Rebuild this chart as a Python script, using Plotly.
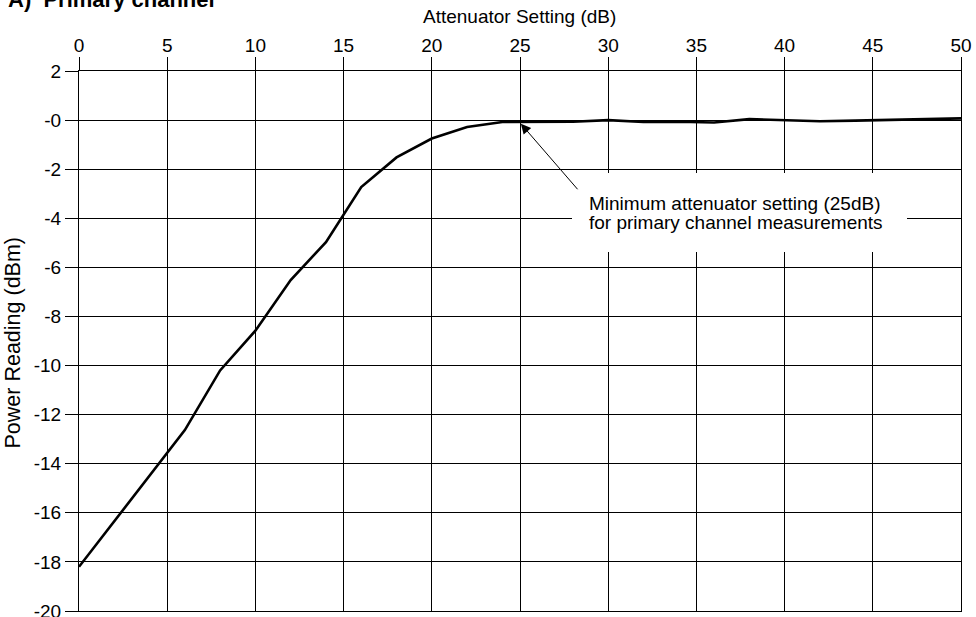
import plotly.graph_objects as go

# ---- data ----
attenuator_db = [0, 2, 4, 6, 8, 10, 12, 14, 16, 18, 20, 22, 24, 26, 28, 30,
                 32, 34, 36, 38, 40, 42, 44, 46, 48, 50]
power_dbm = [-18.2, -16.35, -14.5, -12.63, -10.2, -8.58, -6.52, -4.97, -2.73,
             -1.52, -0.75, -0.28, -0.08, -0.06, -0.07, 0.0, -0.08, -0.07,
             -0.1, 0.04, 0.0, -0.05, -0.02, 0.02, 0.04, 0.07]
x_ticks = [0, 5, 10, 15, 20, 25, 30, 35, 40, 45, 50]
y_ticks = [2, 0, -2, -4, -6, -8, -10, -12, -14, -16, -18, -20]
y_tick_text = ["2", "-0", "-2", "-4", "-6", "-8", "-10", "-12", "-14", "-16", "-18", "-20"]

FONT = "Liberation Sans, Arial, Helvetica, sans-serif"
W, H = 976, 617
ML, MR, MT, MB = 79, 15, 71, 6
PW, PH = W - ML - MR, H - MT - MB


def px_x(p):
    return (p - ML) / PW


def px_y(p):
    return (H - MB - p) / PH


fig = go.Figure()
fig.add_trace(go.Scatter(x=attenuator_db, y=power_dbm, mode="lines",
                         line=dict(color="black", width=2.6), showlegend=False,
                         hoverinfo="skip"))

axis_common = dict(showgrid=True, gridcolor="black", gridwidth=1, zeroline=False,
                   showline=True, linecolor="black", linewidth=1, mirror=True,
                   ticks="outside", ticklen=13, tickwidth=1, tickcolor="black",
                   ticklabeloverflow="allow", automargin=False,
                   tickfont=dict(family=FONT, size=19, color="black"))

fig.update_xaxes(range=[0, 50], side="top", tickmode="array", tickvals=x_ticks,
                 ticklabelstandoff=-3, **axis_common)
fig.update_yaxes(range=[-20, 2], tickmode="array", tickvals=y_ticks,
                 ticktext=y_tick_text, **axis_common)

# white box behind callout text
fig.add_shape(type="rect", xref="paper", yref="paper",
              x0=px_x(572), x1=px_x(907), y0=px_y(252), y1=px_y(173),
              fillcolor="white", line=dict(width=0), layer="above")

annos = [
    dict(text="<b>A)  Primary channel</b>", xref="paper", yref="paper",
         x=px_x(6), y=px_y(-0.5), xanchor="left", yanchor="middle",
         showarrow=False, font=dict(family=FONT, size=22, color="black")),
    dict(text="Attenuator Setting (dB)", xref="paper", yref="paper",
         x=px_x(519), y=px_y(17), xanchor="center", yanchor="middle",
         showarrow=False, font=dict(family=FONT, size=19, color="black")),
    dict(text="Power Reading (dBm)", xref="paper", yref="paper",
         x=px_x(12.5), y=px_y(343), xanchor="center", yanchor="middle",
         textangle=-90, showarrow=False,
         font=dict(family=FONT, size=21.5, color="black")),
    dict(text="Minimum attenuator setting (25dB)", xref="paper", yref="paper",
         x=px_x(587), y=px_y(203), xanchor="left", yanchor="middle",
         showarrow=False, font=dict(family=FONT, size=19, color="black")),
    dict(text="for primary channel measurements", xref="paper", yref="paper",
         x=px_x(587), y=px_y(223), xanchor="left", yanchor="middle",
         showarrow=False, font=dict(family=FONT, size=19, color="black")),
    dict(text="", x=25.05, y=-0.15, xref="x", yref="y", showarrow=True,
         ax=58, ay=67, arrowhead=2, arrowsize=2, arrowwidth=1,
         arrowcolor="black"),
]
for a in annos:
    fig.add_annotation(**a)

fig.update_layout(width=W, height=H, margin=dict(l=ML, r=MR, t=MT, b=MB, autoexpand=False),
                  paper_bgcolor="white", plot_bgcolor="white",
                  font=dict(family=FONT, color="black"))

fig.write_html("out.html")
